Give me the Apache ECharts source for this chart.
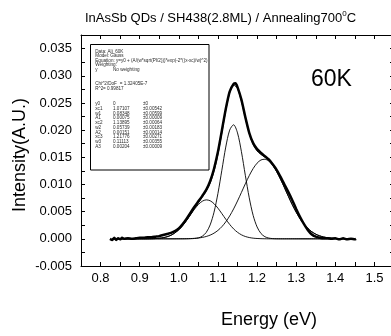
<!DOCTYPE html>
<html>
<head>
<meta charset="utf-8">
<script src="https://cdn.jsdelivr.net/npm/echarts@6/dist/echarts.min.js"></script>
<style>
  html, body { margin: 0; padding: 0; background: #fff; }
  #chart { width: 391px; height: 336px; }
</style>
</head>
<body>
<div id="chart"></div>
<script>
// Measured PL spectrum at 60K (energy in eV, intensity in arbitrary units)
const dataEnergy = [0.824,0.83,0.835,0.84,0.845,0.85,0.855,0.86,
  0.87,0.88,0.89,0.90,0.91,0.92,0.93,0.94,0.95,0.96,0.97,0.98,0.99,1.00,1.01,1.02,1.03,1.04,1.05,1.06,1.07,1.08,1.09,1.10,1.11,1.12,1.13,1.14,
  1.145,
  1.15,1.16,1.17,1.18,1.19,1.20,1.21,1.22,1.23,1.24,1.25,1.26,1.27,1.28,1.29,1.30,1.31,1.32,1.33,1.34,1.35,1.36,1.37,1.38,1.39,1.40,1.41,1.42,1.43,1.44,1.45,
  1.453];
const dataIntensity = [0.0000,-0.0002,0.0002,-0.0002,0.0001,-0.0001,0.0002,0.0000,
  0.0001,0.0000,0.0001,0.0002,0.0002,0.0003,0.0003,0.0004,0.0005,0.0007,0.0009,0.0011,0.0014,0.0019,0.0027,0.0037,0.0048,0.0059,0.0069,0.0079,0.0090,0.0106,0.0129,0.0160,0.0199,0.0239,0.0271,0.0285,
  0.0286,
  0.0279,0.0256,0.0224,0.0195,0.0176,0.0165,0.0158,0.0152,0.0146,0.0137,0.0127,0.0114,0.0100,0.0086,0.0071,0.0055,0.0040,0.0027,0.0016,0.0008,0.0004,0.0002,0.0001,0.0001,0.0000,0.0001,-0.0001,0.0001,-0.0001,0.0000,-0.0001,
  0.0000];

// Gaussian fit curves sampled on a common energy grid
const fitEnergy = [0.83,0.84,0.85,0.86,0.87,0.88,0.89,0.90,0.91,0.92,0.93,0.94,0.95,0.96,0.97,0.98,0.99,
  1.00,1.01,1.02,1.03,1.04,1.05,1.06,1.07,1.08,1.09,1.10,1.11,1.12,1.13,1.14,1.15,1.16,1.17,1.18,1.19,
  1.20,1.21,1.22,1.23,1.24,1.25,1.26,1.27,1.28,1.29,1.30,1.31,1.32,1.33,1.34,1.35,1.36,1.37,1.38,1.39,
  1.40,1.41,1.42,1.43,1.44,1.45];
const peak1 = [0,0,0,0,0,0,0,0,0,0.00001,0.00002,0.00005,0.00011,0.00021,0.00038,0.00066,0.00109,
  0.00168,0.00246,0.00339,0.00442,0.00544,0.00631,0.00692,0.00717,0.00701,0.00647,0.00564,0.00464,0.00361,0.00265,0.00183,0.00120,0.00074,0.00043,0.00024,0.00012,
  0.00006,0.00003,0.00001,0,0,0,0,0,0,0,0,0,0,0,0,0,0,0,0,0,
  0,0,0,0,0,0];
const peak2 = [0,0,0,0,0,0,0,0,0,0,0,0,0,0,0,0,0,
  0,0,0,0.00002,0.00006,0.00017,0.00048,0.00117,0.00255,0.00490,0.00836,0.01262,0.01688,0.02000,0.02098,0.01949,0.01604,0.01169,0.00755,0.00431,
  0.00219,0.00098,0.00039,0.00014,0.00004,0.00001,0,0,0,0,0,0,0,0,0,0,0,0,0,0,
  0,0,0,0,0,0];
const peak3 = [0,0,0,0,0,0,0,0,0,0,0,0,0,0,0,0,0,
  0.00001,0.00001,0.00003,0.00005,0.00009,0.00015,0.00026,0.00043,0.00068,0.00104,0.00155,0.00223,0.00312,0.00421,0.00550,0.00696,0.00853,0.01012,0.01163,0.01293,
  0.01392,0.01451,0.01464,0.01430,0.01352,0.01238,0.01097,0.00942,0.00782,0.00629,0.00490,0.00369,0.00270,0.00190,0.00130,0.00086,0.00055,0.00034,0.00021,0.00012,
  0.00007,0.00004,0.00002,0.00001,0,0];
const fitSum = [0,0,0,0,0,0,0,0,0,0.00001,0.00002,0.00005,0.00011,0.00021,0.00038,0.00066,0.00109,
  0.00169,0.00247,0.00342,0.00449,0.00559,0.00663,0.00766,0.00877,0.01024,0.01241,0.01555,0.01949,0.02361,0.02686,0.02831,0.02765,0.02531,0.02224,0.01942,0.01736,
  0.01617,0.01552,0.01504,0.01444,0.01356,0.01239,0.01097,0.00942,0.00782,0.00629,0.00490,0.00369,0.00270,0.00190,0.00130,0.00086,0.00055,0.00034,0.00021,0.00012,
  0.00007,0.00004,0.00002,0.00001,0,0];

// Fit report text
const reportHeader = ['Data: Ali_60K', 'Model: Gauss',
  'Equation: y=y0 + (A/(w*sqrt(PI/2)))*exp(-2*((x-xc)/w)^2)', 'Weighting:'];
const weightingRow = ['y', 'No weighting'];
const chiRow = ['Chi^2/DoF', '= 1.32405E-7'];
const r2Row = ['R^2', '= 0.99817'];
const paramNames = ['y0','xc1','w1','A1','xc2','w2','A2','xc3','w3','A3'];
const paramValues = ['0','1.07107','0.08348','0.00075','1.13895','0.05739','0.00151','1.21776','0.11113','0.00204'];
const paramErrors = ['\u00b10','\u00b10.00542','\u00b10.00599','\u00b10.00009','\u00b10.00064','\u00b10.00183','\u00b10.00014','\u00b10.00271','\u00b10.00355','\u00b10.00009'];

const FONT = '"Liberation Sans", Arial, sans-serif';

function pairs(xs, ys) { return xs.map((x, i) => [x, ys[i]]); }

// Fit report box graphics
const reportEls = [];
const rx = 95.3, vx = 113, ex = 143;
function small(text, x, y) {
  return { type: 'text', x: x, y: y, silent: true,
    style: { text: text, font: '4.6px ' + FONT, fill: '#2a2a2a', textVerticalAlign: 'middle' } };
}
reportEls.push({ type: 'rect', shape: { x: 90.5, y: 44.5, width: 118.5, height: 125.5 },
  style: { fill: '#fff', stroke: '#000', lineWidth: 1 }, silent: true });
const headerY = [51.3, 55.8, 60.6, 65.2];
reportHeader.forEach((t, i) => reportEls.push(small(t, rx, headerY[i])));
reportEls.push(small(weightingRow[0], rx, 69.9));
reportEls.push(small(weightingRow[1], vx, 69.9));
reportEls.push(small(chiRow[0], rx, 84));
reportEls.push(small(chiRow[1], 119.7, 84));
reportEls.push(small(r2Row[0], rx, 88.5));
reportEls.push(small(r2Row[1], 103, 88.5));
paramNames.forEach((n, i) => {
  const y = 103.7 + i * 4.78;
  reportEls.push(small(n, rx, y));
  reportEls.push(small(paramValues[i], vx, y));
  reportEls.push(small(paramErrors[i], ex, y));
});

const chart = echarts.init(document.getElementById('chart'), null, { renderer: 'canvas' });

const axisCommon = {
  axisLine: { show: true, onZero: false, lineStyle: { color: '#000', width: 1 } },
  axisTick: { show: true, inside: true, length: 4, lineStyle: { color: '#000', width: 1 } },
  splitLine: { show: false }
};

chart.setOption({
  animation: false,
  backgroundColor: '#fff',
  title: {
    text: '{n|InAsSb QDs / SH438(2.8ML) / Annealing700}{s|0}{n|C}',
    left: 85, top: 10, padding: 0,
    textStyle: {
      fontWeight: 'normal',
      rich: {
        n: { fontSize: 13, fontFamily: FONT, fontWeight: 'normal', color: '#000', lineHeight: 16 },
        s: { fontSize: 8, fontFamily: FONT, fontWeight: 'normal', color: '#000', lineHeight: 8, verticalAlign: 'top' }
      }
    }
  },
  grid: { left: 81, right: -3, top: 35, bottom: 70, outerBoundsMode: 'none', containLabel: false },
  xAxis: [
    Object.assign({}, axisCommon, {
      type: 'value', position: 'bottom', min: 0.75, max: 1.55, interval: 0.05,
      axisLabel: {
        color: '#000', fontSize: 13, fontFamily: FONT, margin: 6,
        formatter: v => (Math.round(v * 100) % 10 === 0 && v < 1.549) ? v.toFixed(1) : ''
      }
    }),
    Object.assign({}, axisCommon, {
      type: 'value', position: 'top', min: 0.75, max: 1.55, interval: 0.05,
      axisLabel: { show: false }
    })
  ],
  yAxis: [
    Object.assign({}, axisCommon, {
      type: 'value', position: 'left', min: -0.005, max: 0.0375, interval: 0.0025,
      axisLabel: {
        color: '#000', fontSize: 13, fontFamily: FONT, margin: 9,
        formatter: v => (Math.round(v * 10000) % 50 === 0) ? v.toFixed(3) : ''
      }
    }),
    Object.assign({}, axisCommon, {
      type: 'value', position: 'right', min: -0.005, max: 0.0375, interval: 0.0025,
      axisLabel: { show: false }
    })
  ],
  series: [
    { name: 'Peak 1', type: 'line', data: pairs(fitEnergy, peak1), showSymbol: false, smooth: 0.3,
      lineStyle: { color: '#000', width: 0.9 }, z: 2 },
    { name: 'Peak 2', type: 'line', data: pairs(fitEnergy, peak2), showSymbol: false, smooth: 0.3,
      lineStyle: { color: '#000', width: 0.9 }, z: 2 },
    { name: 'Peak 3', type: 'line', data: pairs(fitEnergy, peak3), showSymbol: false, smooth: 0.3,
      lineStyle: { color: '#000', width: 0.9 }, z: 2 },
    { name: 'Fit', type: 'line', data: pairs(fitEnergy, fitSum), showSymbol: false, smooth: 0.3,
      lineStyle: { color: '#000', width: 1 }, z: 3 },
    { name: '60K', type: 'line', data: pairs(dataEnergy, dataIntensity), showSymbol: false, smooth: 0.2,
      lineStyle: { color: '#000', width: 2.5 }, z: 4 }
  ],
  graphic: [
    { type: 'text', x: 20, y: 155, rotation: Math.PI / 2, silent: true,
      style: { text: 'Intensity(A.U.)', font: '18px ' + FONT, fill: '#000', textAlign: 'center', textVerticalAlign: 'middle' } },
    { type: 'text', x: 269, y: 320, silent: true,
      style: { text: 'Energy (eV)', font: '18px ' + FONT, fill: '#000', textAlign: 'center', textVerticalAlign: 'middle' } },
    { type: 'text', x: 331.5, y: 80, silent: true,
      style: { text: '60K', font: '23px ' + FONT, fill: '#000', textAlign: 'center', textVerticalAlign: 'middle' } },
    { type: 'group', children: reportEls }
  ]
});
</script>
</body>
</html>
